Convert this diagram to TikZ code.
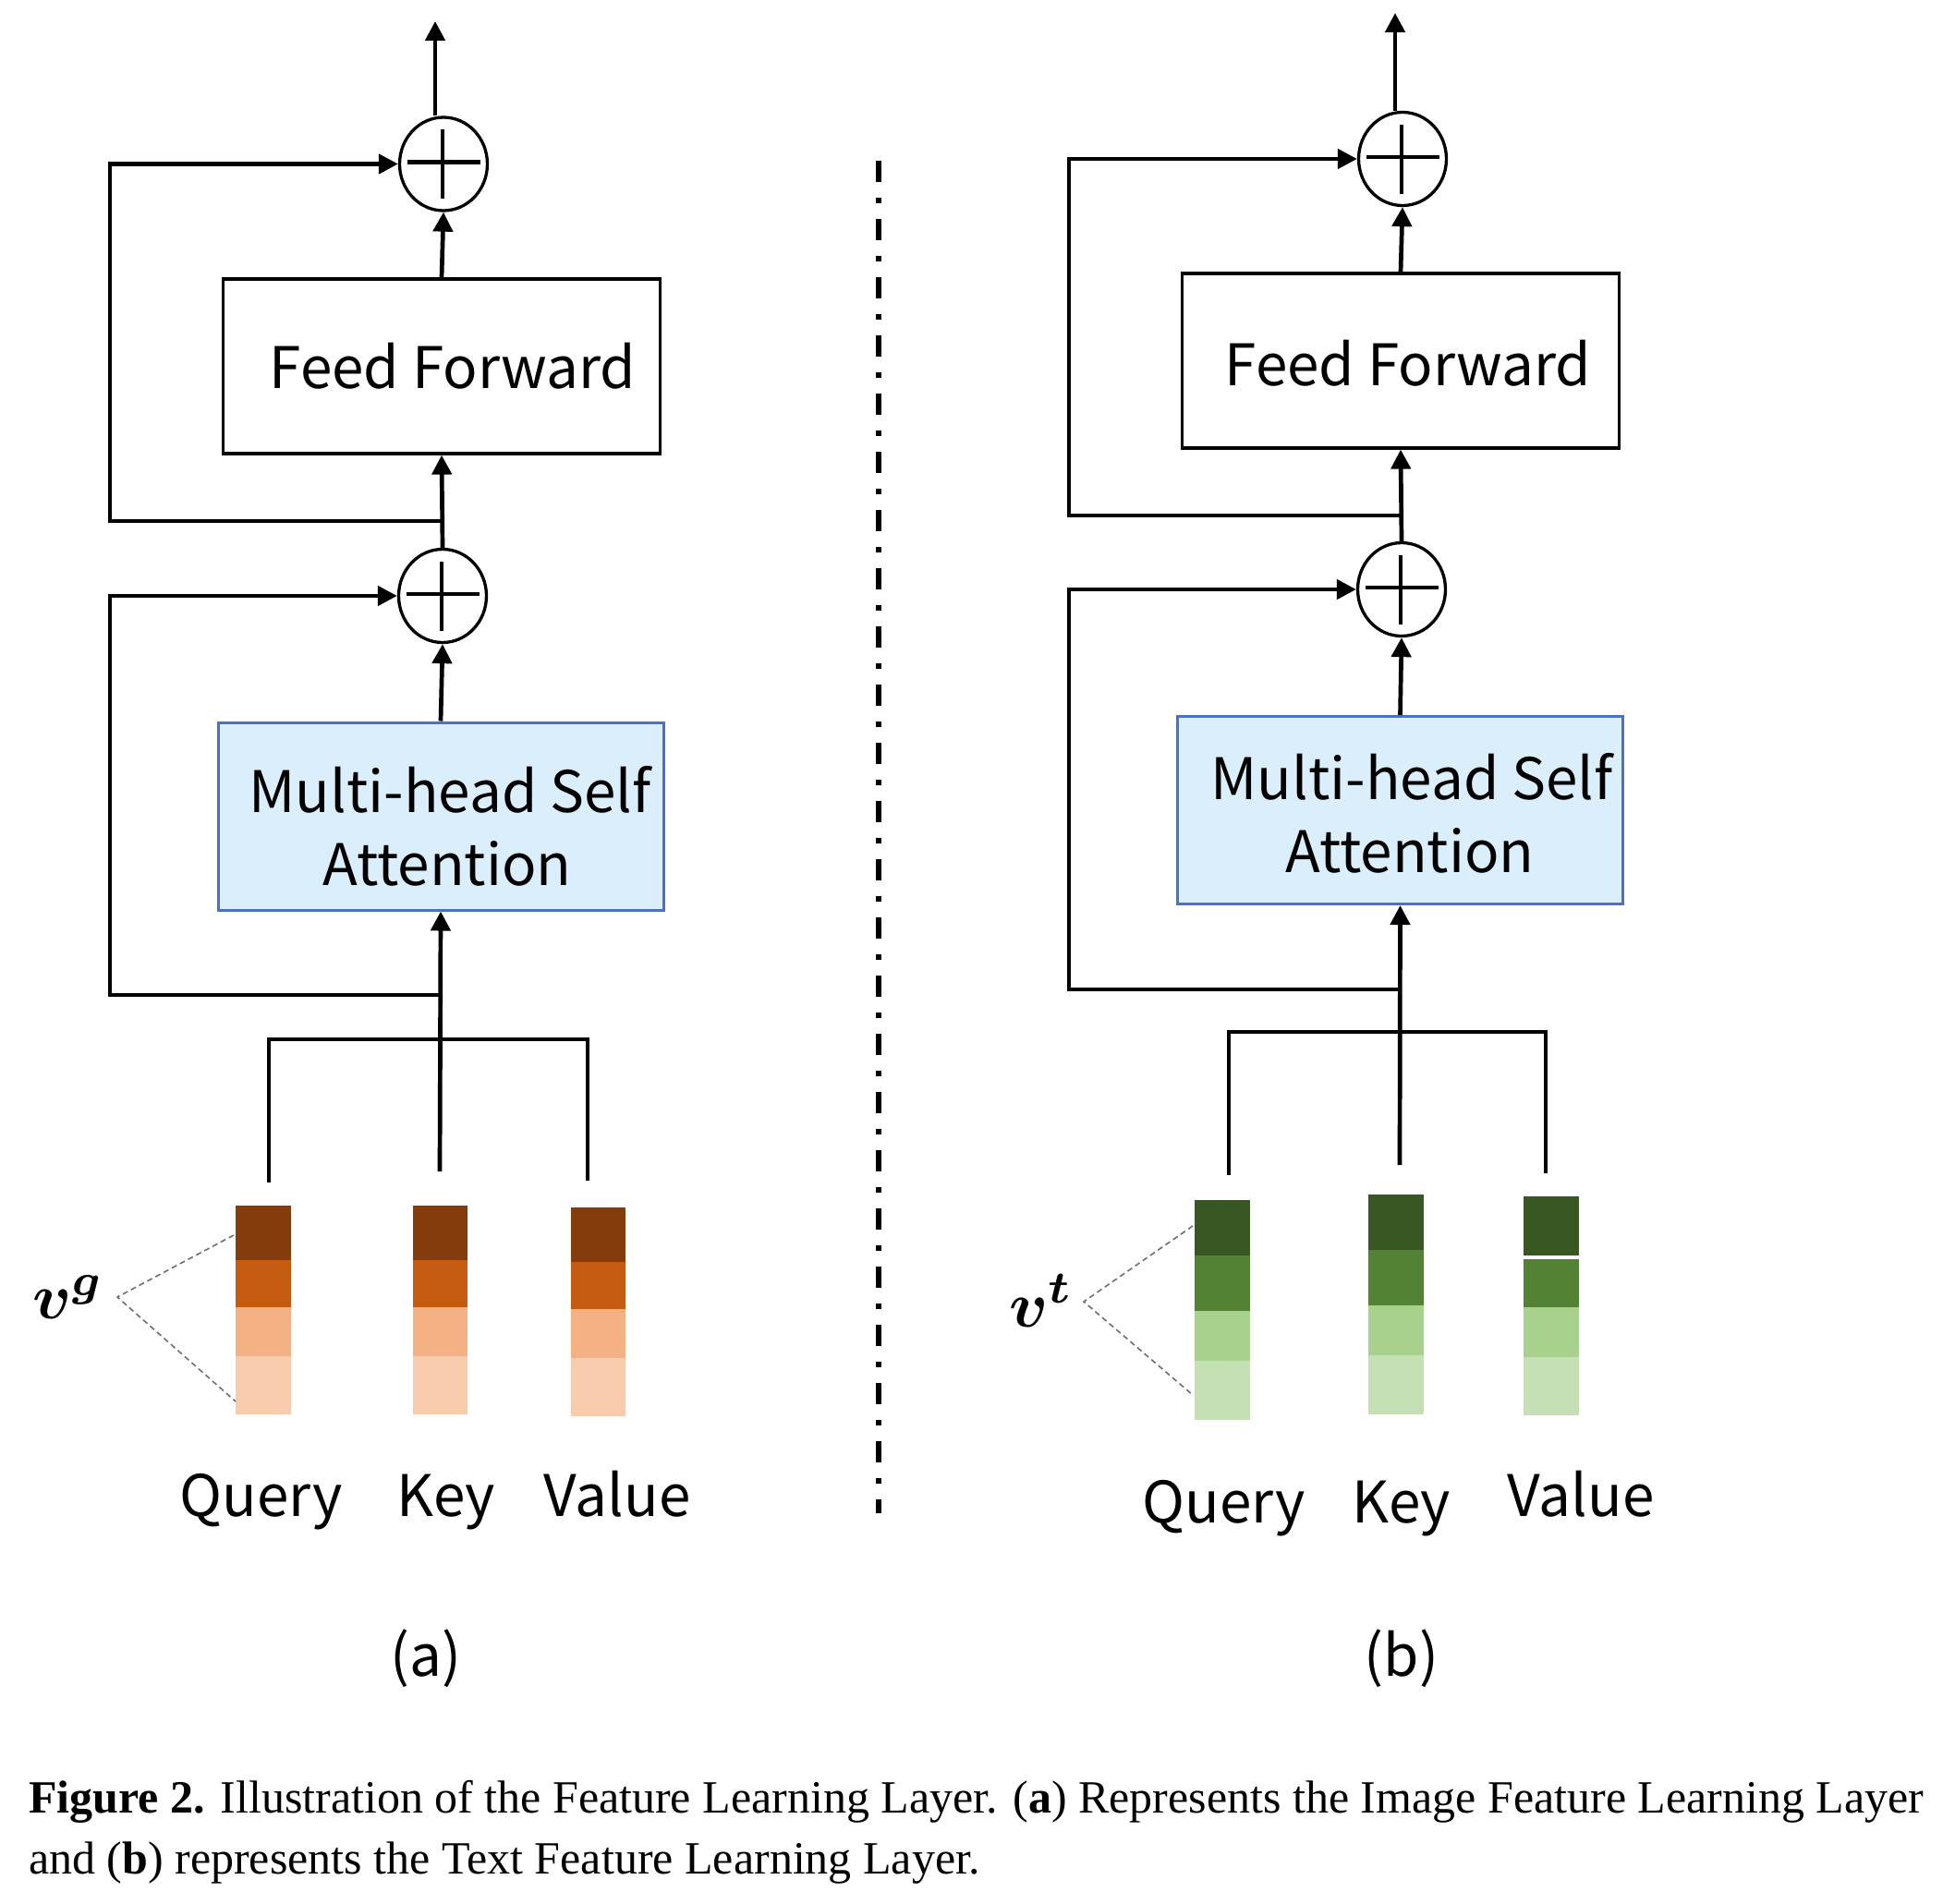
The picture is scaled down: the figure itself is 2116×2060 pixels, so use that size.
\documentclass[tikz,border=0pt]{standalone}
\usepackage{fontspec}
\usepackage{bm}
\usepackage{graphicx}
\usetikzlibrary{arrows.meta,shapes.geometric}
\setmainfont{Liberation Serif}
\newfontfamily\labfont{Noto Sans CJK SC}
\definecolor{oA}{HTML}{843C0C}
\definecolor{oB}{HTML}{C55A11}
\definecolor{oC}{HTML}{F4B183}
\definecolor{oD}{HTML}{F8CBAD}
\definecolor{gA}{HTML}{385723}
\definecolor{gB}{HTML}{548235}
\definecolor{gC}{HTML}{A9D18E}
\definecolor{gD}{HTML}{C5E0B4}
\definecolor{mhfill}{HTML}{DAEEFB}
\definecolor{mhborder}{HTML}{4A72C0}
\definecolor{linkgray}{HTML}{6F6F6F}
\begin{document}
\begin{tikzpicture}[x=1pt,y=-1pt,
  conn/.style={line width=4.7pt,-{Triangle[length=21pt,width=21pt]}},
  plain/.style={line width=4.7pt},
  sumnode/.style={ellipse,draw,line width=3.3pt,minimum width=95pt,minimum height=101pt,inner sep=0pt},
  plusline/.style={line width=4.7pt},
  ffbox/.style={draw,line width=3.2pt,minimum width=473pt,minimum height=189pt,inner sep=0pt},
  mhbox/.style={draw=mhborder,fill=mhfill,line width=3pt,minimum width=482pt,minimum height=203pt,inner sep=0pt},
  lab/.style={font=\labfont\fontsize{62}{70}\selectfont,anchor=base,inner sep=0pt},
  vlink/.style={draw=linkgray,line width=1.6pt,dash pattern=on 6pt off 4pt},
  vlab/.style={inner sep=0pt},
  capline/.style={anchor=base west,inner sep=0pt,font=\fontsize{50}{60}\selectfont},
]
\useasboundingbox (0,0) rectangle (2116,2060);

% ================= panel (a) =================
\node[sumnode] (c1a) at (480,177.5) {};
\node[sumnode] (c2a) at (479,645) {};
\foreach \c in {c1a,c2a}{
  \draw[plusline] (\c.center) ++(-39,-2) -- ++(79,0);
  \draw[plusline] (\c.center) ++(-1,-37) -- ++(0,75);
}
\node[ffbox] (ffa) at (478,396.5) {};
\node[lab] (ffta) at (490,420) {Feed Forward};
\node[mhbox] (mha) at (477,883.5) {};
\node[lab] (mhta1) at (487,879) {Multi-head Self};
\node[lab] (mhta2) at (484,958) {Attention};

\coordinate (outA) at (471,23);
\coordinate (jA1) at (478,564);
\coordinate (jA2) at (476,1077);
\coordinate (kA) at (476,1268);
\coordinate (qA) at (291,1280);
\coordinate (vA) at (636,1278);
\coordinate (bA) at (476,1125);

\draw[conn] (c1a.north -| outA) -- (outA);
\draw[conn] (ffa.north) -- (c1a.south);
\draw[conn] (c2a.north) -- (ffa.south);
\draw[conn] (jA1) -- ++(-359,0) |- (c1a.west);
\draw[conn] (mha.north) -- (c2a.south);
\draw[conn] (kA) -- (mha.south);
\draw[conn] (jA2) -- ++(-357,0) |- (c2a.west);
\draw[plain] (qA) |- (bA) -| (vA);

% stacks (a)
\fill[oA] (255,1305) rectangle (315,1364);
\fill[oB] (255,1364) rectangle (315,1415);
\fill[oC] (255,1415) rectangle (315,1468);
\fill[oD] (255,1468) rectangle (315,1531);
\fill[oA] (447,1305) rectangle (506,1364);
\fill[oB] (447,1364) rectangle (506,1415);
\fill[oC] (447,1415) rectangle (506,1468);
\fill[oD] (447,1468) rectangle (506,1531);
\fill[oA] (618,1307) rectangle (677,1366);
\fill[oB] (618,1366) rectangle (677,1417);
\fill[oC] (618,1417) rectangle (677,1470);
\fill[oD] (618,1470) rectangle (677,1533);

\node[vlab] (vga) at (74,1404) {\scalebox{7}{$\bm{v}^{\bm{g}}$}};
\coordinate (apA) at (127,1404);
\coordinate (sA1) at (253,1337);
\coordinate (sA2) at (255,1517);
\draw[vlink] (sA1) -- (apA) -- (sA2);

\node[lab] (qla) at (283,1641) {Query};
\node[lab] (kla) at (483,1641) {Key};
\node[lab] (vla) at (668,1641) {Value};
\node[font=\labfont\fontsize{62}{70}\selectfont,inner sep=0pt] (suba) at (461,1795) {(a)};

% divider
\draw[line width=6pt,dash pattern=on 23pt off 17pt on 6pt off 17pt] (951,174) -- (951,1638);

% ================= panel (b) =================
\node[sumnode] (c1b) at (1518,172) {};
\node[sumnode] (c2b) at (1517,638) {};
\foreach \c in {c1b,c2b}{
  \draw[plusline] (\c.center) ++(-39,-2) -- ++(79,0);
  \draw[plusline] (\c.center) ++(-1,-37) -- ++(0,75);
}
\node[ffbox] (ffb) at (1516,390.5) {};
\node[lab] (fftb) at (1524,417) {Feed Forward};
\node[mhbox] (mhb) at (1515.5,877) {};
\node[lab] (mhtb1) at (1528,865) {Multi-head Self};
\node[lab] (mhtb2) at (1526,944) {Attention};

\coordinate (outB) at (1510,14);
\coordinate (jB1) at (1516,558);
\coordinate (jB2) at (1515,1071);
\coordinate (kB) at (1515,1261);
\coordinate (qB) at (1330,1272);
\coordinate (vB) at (1673,1270);
\coordinate (bB) at (1515,1117);

\draw[conn] (c1b.north -| outB) -- (outB);
\draw[conn] (ffb.north) -- (c1b.south);
\draw[conn] (c2b.north) -- (ffb.south);
\draw[conn] (jB1) -- ++(-359,0) |- (c1b.west);
\draw[conn] (mhb.north) -- (c2b.south);
\draw[conn] (kB) -- (mhb.south);
\draw[conn] (jB2) -- ++(-358,0) |- (c2b.west);
\draw[plain] (qB) |- (bB) -| (vB);

% stacks (b)
\fill[gA] (1293,1299) rectangle (1353,1359);
\fill[gB] (1293,1359) rectangle (1353,1419);
\fill[gC] (1293,1419) rectangle (1353,1473);
\fill[gD] (1293,1473) rectangle (1353,1537);
\fill[gA] (1481,1293) rectangle (1541,1353);
\fill[gB] (1481,1353) rectangle (1541,1413);
\fill[gC] (1481,1413) rectangle (1541,1467);
\fill[gD] (1481,1467) rectangle (1541,1531);
\fill[gA] (1649,1295) rectangle (1709,1359);
\fill[gB] (1649,1363) rectangle (1709,1415);
\fill[gC] (1649,1415) rectangle (1709,1469);
\fill[gD] (1649,1469) rectangle (1709,1532);

\node[vlab] (vtb) at (1127,1408) {\scalebox{7}{$\bm{v}^{\bm{t}}$}};
\coordinate (apB) at (1173,1409);
\coordinate (sB1) at (1291,1327);
\coordinate (sB2) at (1291,1510);
\draw[vlink] (sB1) -- (apB) -- (sB2);

\node[lab] (qlb) at (1325,1648) {Query};
\node[lab] (klb) at (1517,1648) {Key};
\node[lab] (vlb) at (1711,1641) {Value};
\node[font=\labfont\fontsize{62}{70}\selectfont,inner sep=0pt] (subb) at (1517,1795) {(b)};

% caption
\node[capline] (cap1) at (31,1962) {\textbf{Figure 2.} Illustration of the Feature Learning Layer. (\textbf{a}) Represents the Image Feature Learning Layer};
\node[capline] (cap2) at (31,2028) {and (\textbf{b}) represents the Text Feature Learning Layer.};
\end{tikzpicture}
\end{document}
